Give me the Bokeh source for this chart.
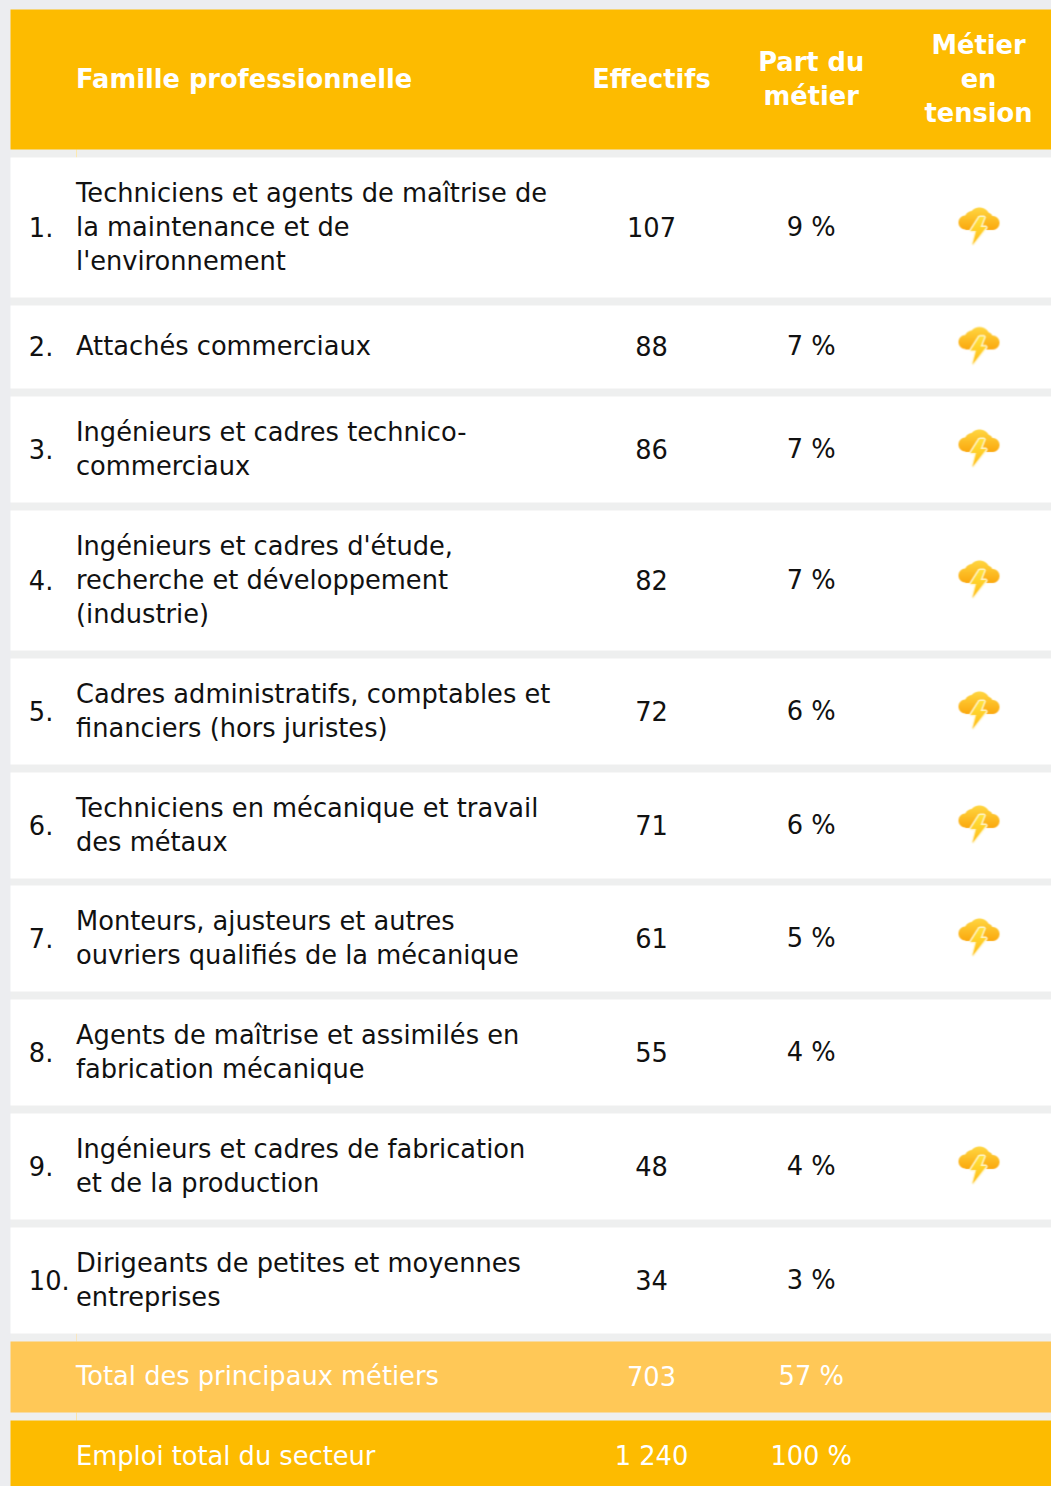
import numpy as np
from bokeh.plotting import figure
from bokeh.models import Range1d
from bokeh.embed import file_html
from bokeh.resources import INLINE
from bokeh.core.properties import value

# ---------- data ----------
header_titles = ["Famille professionnelle", "Effectifs", "Part du\nmétier", "Métier\nen\ntension"]
ranks = ["1.", "2.", "3.", "4.", "5.", "6.", "7.", "8.", "9.", "10."]
families = [
    "Techniciens et agents de maîtrise de\nla maintenance et de\nl'environnement",
    "Attachés commerciaux",
    "Ingénieurs et cadres technico-\ncommerciaux",
    "Ingénieurs et cadres d'étude,\nrecherche et développement\n(industrie)",
    "Cadres administratifs, comptables et\nfinanciers (hors juristes)",
    "Techniciens en mécanique et travail\ndes métaux",
    "Monteurs, ajusteurs et autres\nouvriers qualifiés de la mécanique",
    "Agents de maîtrise et assimilés en\nfabrication mécanique",
    "Ingénieurs et cadres de fabrication\net de la production",
    "Dirigeants de petites et moyennes\nentreprises",
]
effectifs = ["107", "88", "86", "82", "72", "71", "61", "55", "48", "34"]
parts = ["9 %", "7 %", "7 %", "7 %", "6 %", "6 %", "5 %", "4 %", "4 %", "3 %"]
tension = [True, True, True, True, True, True, True, False, True, False]
total_labels = ["Total des principaux métiers", "Emploi total du secteur"]
total_effectifs = ["703", "1 240"]
total_parts = ["57 %", "100 %"]

# ---------- layout / style ----------
W, H = 1051, 1486
FONT = "DejaVu Sans"
SIZE = "25.7px"
LINE = 34
BG = "#ECEDF0"
GAP = "#EEEFEF"
GOLD = "#FDBB00"
LIGHT = "#FFC857"
X_LEFT = 10
X_NUM, X_LABEL, X_EFF, X_PART, X_ICON = 28.3, 75.5, 651, 810.7, 978
TEXT_DY = -0.8

row_tops = [157, 305, 396, 510, 658, 772, 885, 999, 1113, 1227]
row_bots = [297, 388, 502, 650, 764, 878, 991, 1105, 1219, 1333]

p = figure(width=W, height=H, x_range=Range1d(0, W), y_range=Range1d(H, 0),
           output_backend="svg", toolbar_location=None, min_border=0,
           x_axis_location=None, y_axis_location=None)
p.grid.visible = False
p.outline_line_color = None
p.background_fill_color = BG
p.border_fill_color = BG


def band(top, bot, color):
    p.quad(left=[X_LEFT], right=[W], top=[top], bottom=[bot], fill_color=color, line_color=None)


def write(x, y, txt, color, align="left", bold=False):
    lines = txt.split("\n")
    ys = [y + TEXT_DY + (i - (len(lines) - 1) / 2) * LINE for i in range(len(lines))]
    p.text(x=[x] * len(lines), y=ys, text=lines, text_color=color, text_align=align,
           text_baseline="middle", text_font=value(FONT), text_font_size=SIZE,
           text_font_style="bold" if bold else "normal")


# table area behind the rows (gaps between rows)
band(149, 1420, GAP)

# faint column ticks seen in gaps under coloured rows
p.quad(left=[75.5, 75.5, 75.5], right=[76.5, 76.5, 76.5], top=[149, 1333, 1412], bottom=[157, 1341, 1420],
       fill_color=["#FCE9B0", "#F8E6C0", "#FBE3A8"], line_color=None)

# header
band(9, 149, GOLD)
write(X_LABEL, 79, header_titles[0], "white", bold=True)
write(X_EFF, 79, header_titles[1], "white", "center", True)
write(X_PART, 79, header_titles[2], "white", "center", True)
write(X_ICON, 79, header_titles[3], "white", "center", True)

# rows
for t, b in zip(row_tops, row_bots):
    band(t, b, "white")
centers = [(t + b) / 2 for t, b in zip(row_tops, row_bots)]
for i, c in enumerate(centers):
    write(X_NUM, c, ranks[i], "#111111")
    write(X_LABEL, c, families[i], "#111111")
    write(X_EFF, c, effectifs[i], "#111111", "center")
    write(X_PART, c, parts[i], "#111111", "center")

# totals
band(1341, 1412, LIGHT)
band(1420, H + 2, GOLD)
for c, lab, e, pt in zip([1376, 1456], total_labels, total_effectifs, total_parts):
    write(X_LABEL, c, lab, "white")
    write(X_EFF, c, e, "white", "center")
    write(X_PART, c, pt, "white", "center")


# ---------- icon (small raster cloud with lightning) ----------
def poly_mask(px, py, poly):
    inside = np.zeros(px.shape, bool)
    n = len(poly)
    for k in range(n):
        x0, y0 = poly[k]
        x1, y1 = poly[(k + 1) % n]
        cond = (y0 > py) != (y1 > py)
        with np.errstate(divide="ignore", invalid="ignore"):
            xc = x0 + (py - y0) * (x1 - x0) / (y1 - y0)
        inside ^= cond & (px < xc)
    return inside


def make_icon(size=48, ss=4):
    n = size * ss
    ys, xs = np.mgrid[0:n, 0:n]
    px = (xs + .5) / ss
    py = (ys + .5) / ss
    def circ(cx, cy, r):
        return (px - cx) ** 2 + (py - cy) ** 2 <= r ** 2
    cloud = circ(25, 13, 10.5) | circ(11, 17.5, 7) | circ(38, 18, 7) | circ(18, 14, 8) | circ(31, 15, 8)
    cloud |= (py > 14) & (py < 25) & (px > 11) & (px < 38)
    bolt_poly = [(25, 12), (16, 26), (21.5, 26), (18, 40), (32, 22), (26, 22), (30, 12)]
    bolt = poly_mask(px, py, bolt_poly)
    halo = np.zeros_like(bolt)
    for dx, dy in [(-1.5, 0), (1.5, 0), (0, -1.5), (0, 1.5), (-1.1, -1.1), (1.1, 1.1), (-1.1, 1.1), (1.1, -1.1)]:
        halo |= poly_mask(px + dx, py + dy, bolt_poly)
    t = np.clip((py - 3) / 22, 0, 1)[..., None]
    top, bot = np.array([255, 214, 64.]), np.array([251, 168, 14.])
    rgb = top * (1 - t) + bot * t
    a = cloud.astype(float)
    halo_col = np.array([255, 248, 214.])
    rgb = np.where(halo[..., None], halo_col, rgb)
    a = np.maximum(a, halo * 0.9)
    t2 = np.clip((py - 12) / 28, 0, 1)[..., None]
    bc = np.array([255, 226, 60.]) * (1 - t2) + np.array([255, 186, 20.]) * t2
    rgb = np.where(bolt[..., None], bc, rgb)
    a = np.maximum(a, bolt.astype(float))
    premul = rgb * a[..., None]
    def down(arr):
        return arr.reshape(size, ss, size, ss, *arr.shape[2:]).mean(axis=(1, 3))
    pm, al = down(premul), down(a)
    # the reference icon is a slightly soft, upscaled bitmap
    def soft(arr):
        out = arr * 0.5
        for ax in (0, 1):
            out = out + 0.125 * (np.roll(arr, 1, ax) + np.roll(arr, -1, ax))
        return out
    pm, al = soft(pm), soft(al)
    col = np.where(al[..., None] > 0, pm / np.maximum(al[..., None], 1e-6), 255)
    out = np.zeros((size, size), dtype=np.uint32)
    view = out.view(dtype=np.uint8).reshape(size, size, 4)
    view[..., :3] = np.clip(col, 0, 255).astype(np.uint8)
    view[..., 3] = np.clip(al * 255, 0, 255).astype(np.uint8)
    return out


ICON = make_icon()
ICON_SIZE = 48
for c, flag in zip(centers, tension):
    if flag:
        p.image_rgba(image=[ICON], x=[X_ICON - ICON_SIZE / 2], y=[c - 22.5],
                     dw=[ICON_SIZE], dh=[ICON_SIZE])

html = file_html(p, INLINE).replace("<body>", f'<body style="background:{BG}">')
open("out.html", "w").write(html)
